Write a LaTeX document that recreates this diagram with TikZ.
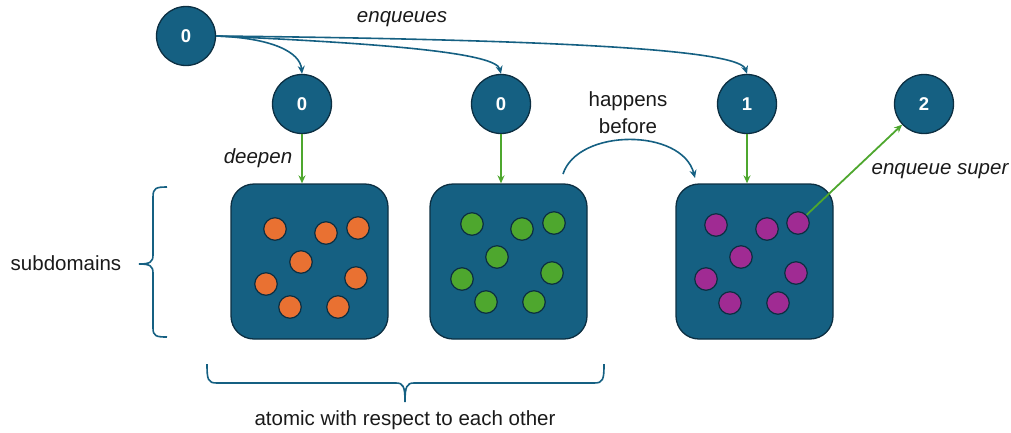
\documentclass[tikz,border=0pt]{standalone}
\usepackage{fontspec}
\setmainfont{Liberation Sans}
\usetikzlibrary{arrows.meta,calc}
\definecolor{qteal}{HTML}{156082}
\definecolor{qedge}{HTML}{0C2F42}
\definecolor{orng}{HTML}{E97132}
\definecolor{grn}{HTML}{4EA72E}
\definecolor{purp}{HTML}{A02B93}
\definecolor{txt}{HTML}{1A1A1A}
\tikzset{
  qnode/.style={circle,fill=qteal,draw=qedge,line width=1.3pt,minimum size=59pt,inner sep=0pt,
    text=white,font=\fontsize{18.5}{22}\selectfont\bfseries},
  dombox/.style={rectangle,rounded corners=23pt,fill=qteal,draw=qedge,line width=1.3pt,
    minimum width=157pt,minimum height=155pt,inner sep=0pt},
  dotnode/.style={circle,draw=qedge,line width=1.2pt,minimum size=22.5pt,inner sep=0pt},
  od/.style={dotnode,fill=orng},
  gd/.style={dotnode,fill=grn},
  pd/.style={dotnode,fill=purp},
  lbl/.style={text=txt,font=\fontsize{20.5}{24}\selectfont,align=center,inner sep=0pt},
  ilbl/.style={lbl,font=\fontsize{20.5}{24}\selectfont\itshape},
  bluearrow/.style={draw=qteal,line width=1.6pt,-{Stealth[length=8pt,width=7pt]}},
  greenarrow/.style={draw=grn,line width=1.8pt,-{Stealth[length=8pt,width=7pt]}},
  bracestyle/.style={draw=qteal,line width=1.6pt}
}
\begin{document}
\begin{tikzpicture}[x=1pt,y=-1pt]
\useasboundingbox (0,0) rectangle (1011,432);
% queue nodes
\node[qnode] (top) at (186,36) {0};
\node[qnode] (q1) at (302,104) {0};
\node[qnode] (q2) at (501,104) {0};
\node[qnode] (q3) at (747,104) {1};
\node[qnode] (q4) at (924,104) {2};
% domains
\node[dombox] (b1) at (309.5,261.5) {};
\node[dombox] (b2) at (508.5,261.5) {};
\node[dombox] (b3) at (754.5,261.5) {};
% orange dots
\node[od] (o1) at (275,229) {};
\node[od] (o2) at (326,233) {};
\node[od] (o3) at (358,228) {};
\node[od] (o4) at (301,262) {};
\node[od] (o5) at (266,284) {};
\node[od] (o6) at (356,278) {};
\node[od] (o7) at (290,307) {};
\node[od] (o8) at (338,307) {};
% green dots
\node[gd] (g1) at (472,224) {};
\node[gd] (g2) at (522,229) {};
\node[gd] (g3) at (554,223) {};
\node[gd] (g4) at (497,257) {};
\node[gd] (g5) at (462,279) {};
\node[gd] (g6) at (552,273) {};
\node[gd] (g7) at (486,302) {};
\node[gd] (g8) at (534,302) {};
% purple dots
\node[pd] (p1) at (716,225) {};
\node[pd] (p2) at (767,229) {};
\node[pd] (p3) at (798,223) {};
\node[pd] (p4) at (741,257) {};
\node[pd] (p5) at (706,279) {};
\node[pd] (p6) at (796,273) {};
\node[pd] (p7) at (730,303) {};
\node[pd] (p8) at (778,303) {};
% labels
\node[ilbl] (enq) at (402,19) {enqueues};
\node[ilbl] (deep) at (258,158) {deepen};
\node[lbl] (hb) at (628,112.5) {happens\\[3pt]before};
\node[ilbl] (esup) at (940,171) {enqueue super};
\node[lbl] (sub) at (66,263) {subdomains};
\node[lbl] (atom) at (405,420) {atomic with respect to each other};
% enqueue arrows
\draw[bluearrow] (top.east) .. controls (272,38) and (300,52) .. (q1.north);
\draw[bluearrow] (top.east) .. controls (400,44) and (496,54) .. (q2.north);
\draw[bluearrow] (top.east) .. controls (600,40) and (740,52) .. (q3.north);
% deepen arrows
\draw[greenarrow] (q1.south) -- (q1.south |- b1.north);
\draw[greenarrow] (q2.south) -- (q2.south |- b2.north);
\draw[greenarrow] (q3.south) -- (q3.south |- b3.north);
% enqueue super
\draw[greenarrow] (p3) -- (q4);
% happens before
\coordinate (hbs) at (563,174);
\coordinate (hbe) at (695,178);
\draw[bluearrow] (hbs) .. controls (578,128) and (682,128) .. (hbe);
% braces
\draw[bracestyle] (167,187) .. controls (156,187) and (153,188) .. (153,197) -- (153,255)
  .. controls (153,262) and (150,264) .. (139,264)
  .. controls (150,264) and (153,266) .. (153,273) -- (153,328)
  .. controls (153,336) and (156,337) .. (167,337);
\draw[bracestyle] (207,364) .. controls (207,380) and (208,383) .. (217,383) -- (396,383)
  .. controls (403,383) and (405,386) .. (405,402)
  .. controls (405,386) and (407,383) .. (414,383) -- (594,383)
  .. controls (603,383) and (604,380) .. (604,364);
\end{tikzpicture}
\end{document}
